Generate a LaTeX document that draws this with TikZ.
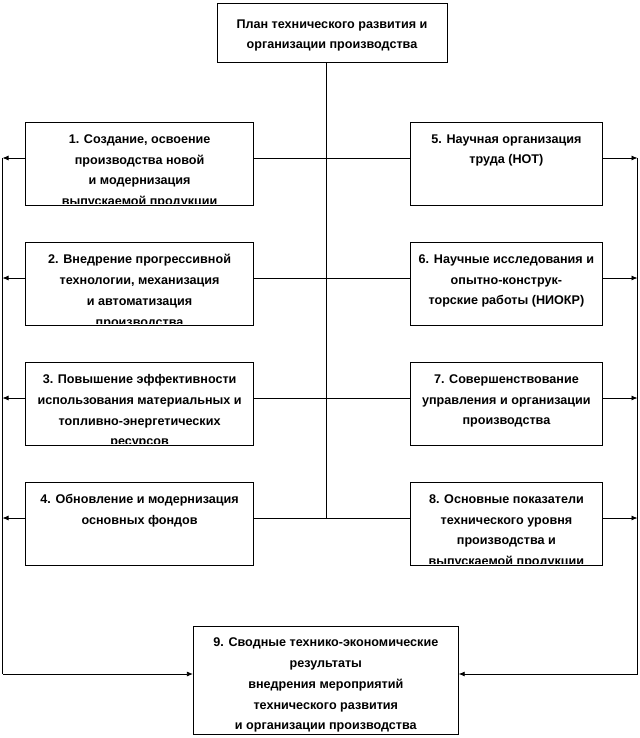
\documentclass[tikz,border=0pt]{standalone}
\usepackage{fontspec}
\setmainfont{Liberation Sans}
\usetikzlibrary{arrows.meta,positioning}
\tikzstyle{block} = [draw,rectangle,line width=.8bp,inner sep=0,minimum height=83bp]
\tikzstyle{caption} = [anchor=north,align=center,inner sep=0,font=\fontsize{12.6bp}{20.7bp}\selectfont\bfseries]
\tikzstyle{link} = [-,line width=.8bp]
\tikzstyle{flow} = [-{Latex[length=6bp,width=5bp]},line width=.8bp]
\newcommand{\boxcaption}[2]{%
  \begin{scope}
    \clip ([yshift=2.5bp]#1.south west) rectangle (#1.north east);
    \node[caption] (#1t) at ([yshift=-12.3bp]#1.north) {#2};
  \end{scope}}
\def \lw {228bp}
\def \rw {192.5bp}

\begin{document}
\begin{tikzpicture}[x=1bp,y=-1bp]
      \useasboundingbox (0,0) rectangle (640,738);
      \node[block,minimum width=230bp,minimum height=59bp] (plan) at (332,32.5) {};
      \node[caption,font=\fontsize{12.6bp}{20bp}\selectfont\bfseries] (plant) at ([yshift=-17.2bp]plan.north) {План технического развития и\\организации производства};
      \node[block,minimum width=\lw] (b1) at (139.6,164) {};
      \node[block,minimum width=\lw] (b2) at (139.6,284) {};
      \node[block,minimum width=\lw] (b3) at (139.6,404) {};
      \node[block,minimum width=\lw] (b4) at (139.6,524) {};
      \node[block,minimum width=\rw] (b5) at (506.4,164) {};
      \node[block,minimum width=\rw] (b6) at (506.4,284) {};
      \node[block,minimum width=\rw] (b7) at (506.4,404) {};
      \node[block,minimum width=\rw] (b8) at (506.4,524) {};
      \node[block,minimum width=265bp,minimum height=108bp] (b9) at (325.8,680) {};
      \boxcaption{b1}{1. Создание, освоение\\производства новой\\и модернизация\\выпускаемой продукции}
      \boxcaption{b2}{2. Внедрение прогрессивной\\технологии, механизация\\и автоматизация\\производства}
      \boxcaption{b3}{3. Повышение эффективности\\использования материальных и\\топливно-энергетических\\ресурсов}
      \boxcaption{b4}{4. Обновление и модернизация\\основных фондов}
      \boxcaption{b5}{5. Научная организация\\труда (НОТ)}
      \boxcaption{b6}{6. Научные исследования и\\опытно-конструк-\\торские работы (НИОКР)}
      \boxcaption{b7}{7. Совершенствование\\управления и организации\\производства}
      \boxcaption{b8}{8. Основные показатели\\технического уровня\\производства и\\выпускаемой продукции}
      \boxcaption{b9}{9. Сводные технико-экономические\\результаты\\внедрения мероприятий\\технического развития\\и организации производства}
      \coordinate (s1) at (326,158);
      \coordinate (s2) at (326,278);
      \coordinate (s3) at (326,398);
      \coordinate (s4) at (326,518);
      \coordinate (lt) at (2.5,158);
      \coordinate (lb) at (2.5,674);
      \coordinate (rt) at (637.5,158);
      \coordinate (rb) at (637.5,674);
      \draw[link] (plan.south -| s1) -- (s4);
      \foreach \l/\r/\s in {b1/b5/s1,b2/b6/s2,b3/b7/s3,b4/b8/s4} {
        \draw[link] (\l.east |- \s) -- (\r.west |- \s);
        \draw[flow] (\l.west |- \s) -- (lt |- \s);
        \draw[flow] (\r.east |- \s) -- (rt |- \s);
      }
      \draw[link] (lt) -- (lb);
      \draw[link] (rt) -- (rb);
      \draw[flow] (lb) -- (b9.west |- lb);
      \draw[flow] (rb) -- (b9.east |- rb);
    \end{tikzpicture}
\end{document}
